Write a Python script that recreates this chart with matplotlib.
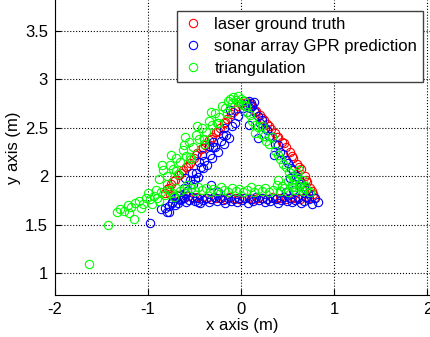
import matplotlib
matplotlib.use("Agg")
import matplotlib.pyplot as plt

# laser ground truth (red)
red_x = [-0.82, -0.78, -0.75, -0.71, -0.67, -0.63, -0.59, -0.55, -0.51, -0.47, -0.43, -0.39, -0.35, -0.31,
         -0.27, -0.23, -0.19, -0.15, -0.11, -0.07, -0.03,
         -0.80, -0.73, -0.65, -0.57, -0.49, -0.41, -0.33, -0.25, -0.17, -0.09,
         0.00, 0.03, 0.06, 0.09,
         0.12, 0.16, 0.20, 0.24, 0.28, 0.32, 0.36, 0.40, 0.44, 0.48, 0.52, 0.56, 0.60, 0.64, 0.68, 0.71, 0.74, 0.77,
         0.14, 0.22, 0.30, 0.38, 0.46, 0.54, 0.62, 0.70, 0.76,
         0.78, 0.73, 0.68, 0.63, 0.58, 0.53, 0.48, 0.43, 0.38, 0.33, 0.28, 0.23, 0.18, 0.13, 0.08, 0.03,
         -0.02, -0.07, -0.12, -0.17, -0.22, -0.27, -0.32, -0.37, -0.42, -0.47, -0.52, -0.57, -0.62, -0.67,
         -0.72, -0.77]
red_y = [1.83, 1.88, 1.92, 1.96, 2.01, 2.06, 2.10, 2.14, 2.19, 2.24, 2.28, 2.32, 2.37, 2.41,
         2.46, 2.50, 2.55, 2.59, 2.64, 2.68, 2.73,
         1.87, 1.95, 2.03, 2.11, 2.22, 2.29, 2.38, 2.47, 2.56, 2.66,
         2.76, 2.78, 2.77, 2.75,
         2.72, 2.67, 2.63, 2.58, 2.54, 2.49, 2.45, 2.40, 2.35, 2.30, 2.25, 2.19, 2.13, 2.07, 2.00, 1.94, 1.88, 1.82,
         2.68, 2.60, 2.52, 2.41, 2.34, 2.21, 2.09, 1.96, 1.85,
         1.78, 1.77, 1.79, 1.76, 1.78, 1.77, 1.76, 1.78, 1.77, 1.79, 1.76, 1.77, 1.78, 1.76, 1.77, 1.78,
         1.76, 1.77, 1.79, 1.76, 1.78, 1.77, 1.76, 1.78, 1.77, 1.79, 1.78, 1.80, 1.79, 1.81,
         1.80, 1.82]

# sonar array GPR prediction (blue)
blue_x = [-0.98, -0.82, -0.78, -0.74, -0.71, -0.68, -0.64, -0.61, -0.58, -0.55, -0.52, -0.49, -0.46, -0.43,
          -0.40, -0.37, -0.34, -0.31, -0.28, -0.25, -0.22, -0.19, -0.16, -0.13, -0.10, -0.07, -0.04,
          -0.42, -0.30, -0.53, -0.66, -0.50, -0.20, -0.12, -0.35,
          -0.60, -0.45, -0.30, -0.18,
          0.02, 0.05, 0.08, 0.10, 0.12, 0.14, 0.09, 0.06,
          0.15, 0.18, 0.20, 0.22, 0.25, 0.28, 0.30, 0.33, 0.36, 0.39, 0.42, 0.45, 0.48, 0.50, 0.53, 0.56,
          0.59, 0.62, 0.64, 0.67, 0.70, 0.72,
          0.08, 0.18, 0.35, 0.52,
          0.82, 0.79, 0.76, 0.73, 0.70, 0.67, 0.64, 0.61, 0.58, 0.55, 0.52, 0.49, 0.46, 0.43, 0.40, 0.37,
          0.34, 0.31, 0.28, 0.25, 0.22, 0.19, 0.16, 0.13, 0.10, 0.07, 0.04, 0.01, -0.02, -0.05, -0.08,
          -0.11, -0.14, -0.17, -0.20, -0.23, -0.26, -0.29, -0.32, -0.35, -0.38, -0.41, -0.44, -0.47,
          -0.50, -0.53, -0.56, -0.59, -0.62, -0.65, -0.68, -0.71,
          -0.41, -0.46, -0.33, -0.60, -0.25, 0.56, 0.62, 0.48,
          -0.74, -0.78, -0.86, -0.80]
blue_y = [1.52, 1.67, 1.63, 1.73, 1.70, 1.80, 1.78, 1.88, 1.85, 1.96, 1.92, 2.03, 1.99, 2.10,
          2.16, 2.12, 2.22, 2.19, 2.30, 2.25, 2.36, 2.33, 2.43, 2.39, 2.52, 2.55, 2.62,
          2.22, 2.30, 2.03, 1.75, 1.97, 2.43, 2.68, 2.31,
          1.98, 2.15, 2.35, 2.50,
          2.70, 2.75, 2.78, 2.76, 2.73, 2.77, 2.70, 2.66,
          2.66, 2.62, 2.55, 2.58, 2.50, 2.48, 2.42, 2.40, 2.33, 2.32, 2.25, 2.23, 2.17, 2.14, 2.08, 2.06,
          2.00, 1.97, 1.92, 1.90, 1.86, 1.83,
          2.53, 2.39, 2.22, 1.98,
          1.73, 1.77, 1.71, 1.76, 1.79, 1.74, 1.72, 1.78, 1.75, 1.73, 1.77, 1.74, 1.79, 1.75, 1.72, 1.76,
          1.78, 1.74, 1.76, 1.73, 1.77, 1.75, 1.79, 1.74, 1.76, 1.72, 1.77, 1.75, 1.78, 1.73, 1.76,
          1.74, 1.78, 1.72, 1.75, 1.77, 1.74, 1.79, 1.76, 1.73, 1.78, 1.75, 1.72, 1.77,
          1.74, 1.79, 1.75, 1.73, 1.78, 1.76, 1.72, 1.77,
          2.08, 1.73, 1.91, 1.83, 1.84, 1.86, 1.90, 1.84,
          1.72, 1.69, 1.66, 1.63]

# triangulation (green)
green_x = [-1.63, -1.43, -1.15,
           -1.33, -1.30, -1.26, -1.22, -1.18, -1.14, -1.10, -1.06, -1.02, -0.98, -0.94, -0.90, -0.86, -0.82,
           -0.78, -0.74, -0.70, -0.66, -0.62,
           -1.20, -1.08, -0.96, -0.88, -1.00, -0.92, -0.80, -0.72,
           -0.88, -0.84, -0.80, -0.77, -0.73, -0.70, -0.66, -0.63, -0.59, -0.56, -0.52, -0.49, -0.45, -0.42,
           -0.38, -0.35, -0.31, -0.28, -0.24, -0.21, -0.17, -0.14,
           -0.60, -0.47, -0.32, -0.75, -0.68, -0.54, -0.40, -0.85, -0.62, -0.26,
           -0.70, -0.55, -0.40, -0.25, -0.15,
           -0.12, -0.09, -0.06, -0.03, 0.00, 0.03, -0.10, -0.04, 0.02, 0.05,
           0.06, 0.09, 0.12, 0.15, 0.18, 0.21, 0.24, 0.27, 0.30, 0.33, 0.36, 0.39, 0.42, 0.45, 0.48, 0.51,
           0.54, 0.57, 0.60, 0.63, 0.66, 0.69,
           0.15, 0.22, 0.55, 0.62, 0.58, 0.50, 0.66, 0.44, 0.40,
           0.74, 0.70, 0.66, 0.62, 0.58, 0.54, 0.50, 0.46, 0.42, 0.38, 0.34, 0.30, 0.26, 0.22, 0.18, 0.14,
           0.10, 0.06, 0.02, -0.02, -0.06, -0.10, -0.14, -0.18, -0.22, -0.26, -0.30, -0.34, -0.38, -0.42,
           -0.46, -0.50, -0.54, -0.58]
green_y = [1.09, 1.50, 1.56,
           1.63, 1.66, 1.64, 1.70, 1.68, 1.72, 1.74, 1.71, 1.78, 1.76, 1.80, 1.78, 1.84, 1.81,
           1.86, 1.83, 1.88, 1.85, 1.87,
           1.62, 1.67, 1.71, 1.74, 1.83, 1.86, 1.92, 1.79,
           1.97, 2.06, 2.00, 2.12, 2.07, 2.19, 2.15, 2.27, 2.21, 2.35, 2.30, 2.43, 2.38, 2.50,
           2.46, 2.57, 2.53, 2.65, 2.61, 2.72, 2.70, 2.78,
           2.40, 2.52, 2.66, 2.22, 2.02, 2.18, 2.33, 2.12, 2.32, 2.55,
           2.05, 2.20, 2.38, 2.55, 2.65,
           2.80, 2.82, 2.79, 2.83, 2.80, 2.78, 2.76, 2.77, 2.74, 2.72,
           2.66, 2.63, 2.57, 2.53, 2.51, 2.44, 2.42, 2.36, 2.33, 2.40, 2.26, 2.22, 2.18, 2.13, 2.10, 2.04,
           2.00, 1.97, 2.03, 1.93, 1.96, 1.90,
           2.45, 2.52, 1.92, 2.06, 1.89, 1.95, 1.88, 1.90, 1.96,
           1.84, 1.87, 1.85, 1.90, 1.86, 1.89, 1.84, 1.88, 1.85, 1.91, 1.86, 1.84, 1.88, 1.85, 1.87, 1.84,
           1.89, 1.86, 1.84, 1.87, 1.85, 1.88, 1.84, 1.86, 1.89, 1.85, 1.87, 1.84, 1.88, 1.86,
           1.89, 1.85, 1.88, 1.91]

x_ticks = [-2, -1, 0, 1, 2]
y_ticks = [1, 1.5, 2, 2.5, 3, 3.5]
labels = ['laser ground truth', 'sonar array GPR prediction', 'triangulation']

plt.rcParams['font.family'] = ['Liberation Sans', 'DejaVu Sans']
plt.rcParams['font.size'] = 12

fig = plt.figure(figsize=(4.30, 3.37), dpi=100)
ax = fig.add_axes([55 / 430, 42 / 337, 375 / 430, 295 / 337])

mk = dict(marker='o', linestyle='none', markerfacecolor='none', markersize=6, markeredgewidth=0.8)
ax.plot(red_x, red_y, color='#ff0000', label=labels[0], **mk)
ax.plot(blue_x, blue_y, color='#0000ff', label=labels[1], **mk)
ax.plot(green_x, green_y, color='#00ff00', label=labels[2], **mk)

ax.set_xlim(-2, 2.027)
ax.set_ylim(0.773, 3.82)
ax.set_xticks(x_ticks)
ax.set_xticklabels(['-2', '-1', '0', '1', '2'])
ax.set_yticks(y_ticks)
ax.set_yticklabels(['1', '1.5', '2', '2.5', '3', '3.5'])
ax.tick_params(direction='in', length=4, width=0.8, pad=5)
ax.grid(True, linestyle=':', color='black', linewidth=0.8)
ax.set_axisbelow(True)
ax.spines['top'].set_visible(False)
ax.spines['right'].set_visible(False)
ax.set_xlabel('x axis (m)', labelpad=1)
ax.set_ylabel('y axis (m)', labelpad=3)

leg = ax.legend(loc='upper right', bbox_to_anchor=((423 - 55) / 375, (295 - 11) / 295),
                borderaxespad=0, fancybox=False, framealpha=1, edgecolor='#404040',
                handlelength=1.2, handletextpad=0.7, labelspacing=0.42, borderpad=0.35)
leg.get_frame().set_linewidth(1.0)

fig.savefig('out.png', dpi=100)
plt.close(fig)
